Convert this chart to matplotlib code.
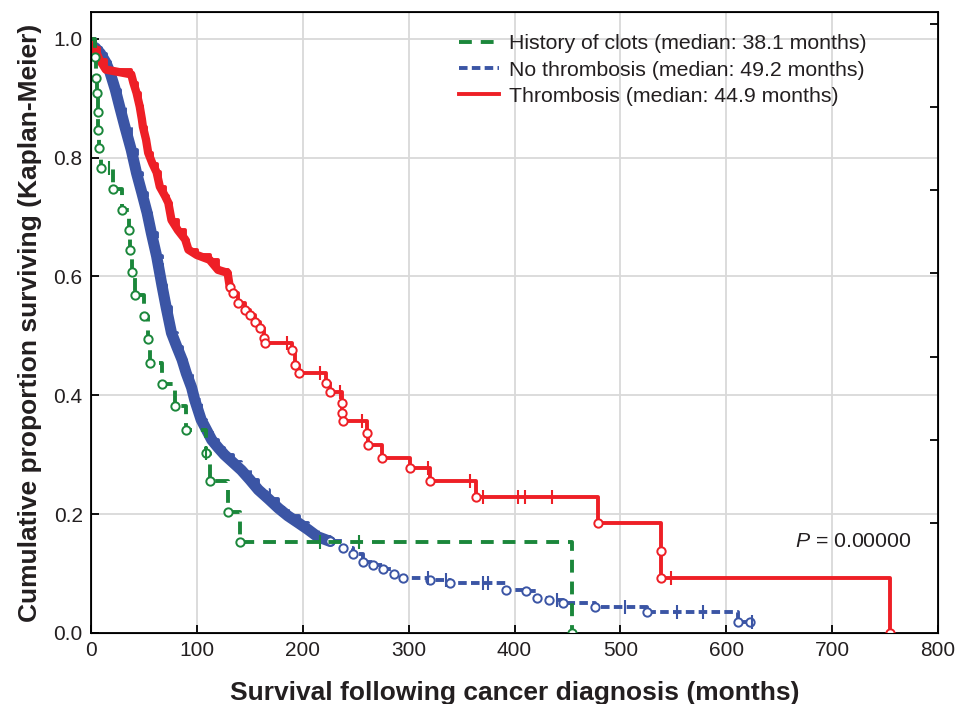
# -*- coding: utf-8 -*-
# Curvas de sobrevida (Kaplan-Meier) para tres grupos de pacientes
import matplotlib.pyplot as plt
import numpy as np

# --- dados ---
# cada grupo: tempos (meses) dos eventos e a proporcao sobrevivente depois do evento
t_coagulo = [0, 4, 5, 6, 6.5, 7, 8, 9, 21, 29, 36, 37, 39, 42, 50, 54, 56, 67,
             79, 90, 109, 112, 129, 141, 454]
s_coagulo = [1.0, 0.97, 0.934, 0.909, 0.877, 0.847, 0.816, 0.783, 0.747, 0.712,
             0.678, 0.645, 0.608, 0.569, 0.533, 0.495, 0.455, 0.419, 0.382, 0.342,
             0.303, 0.256, 0.203, 0.153, 0.0]
cens_coagulo = [17, 109, 216, 253]

t_sem = [0, 4, 9, 14, 18, 23, 27, 32, 38, 43, 48, 53, 57, 62, 67, 71, 76, 81, 86,
         90, 95, 98, 104, 109, 114, 120, 126, 134, 142, 150, 158, 168, 177, 186,
         196, 205, 214, 226, 238, 247, 257, 266, 276, 286, 295, 320, 339, 392,
         411, 421, 433, 446, 476, 525, 611, 622]
s_sem = [1.0, 0.985, 0.975, 0.96, 0.943, 0.914, 0.886, 0.852, 0.813, 0.774,
         0.741, 0.707, 0.673, 0.634, 0.585, 0.548, 0.505, 0.482, 0.46, 0.437,
         0.413, 0.392, 0.359, 0.342, 0.325, 0.312, 0.30, 0.287, 0.274, 0.258,
         0.241, 0.225, 0.21, 0.197, 0.185, 0.174, 0.162, 0.154, 0.143, 0.133,
         0.12, 0.114, 0.108, 0.1, 0.092, 0.089, 0.084, 0.073, 0.07, 0.059, 0.055,
         0.05, 0.044, 0.036, 0.019, 0.019]
cens_sem = [318, 335, 370, 375, 440, 504, 553, 578, 624]

t_trombo = [0, 3, 8, 14, 38, 40, 43, 46, 48, 49, 52, 54, 58, 62, 65, 70, 73, 76,
            82, 89, 92, 100, 112, 120, 129, 131, 134, 139, 145, 150, 155, 160,
            163, 164, 190, 193, 196, 222, 226, 237, 237.5, 238, 261, 262, 275,
            301, 320, 364, 479, 538, 538.5, 755]
s_trombo = [1.0, 0.985, 0.965, 0.948, 0.94, 0.926, 0.909, 0.886, 0.865, 0.852,
            0.83, 0.808, 0.79, 0.775, 0.751, 0.735, 0.724, 0.695, 0.678, 0.662,
            0.645, 0.636, 0.628, 0.611, 0.606, 0.583, 0.572, 0.555, 0.544, 0.535,
            0.524, 0.513, 0.497, 0.488, 0.476, 0.451, 0.438, 0.42, 0.406, 0.387,
            0.37, 0.356, 0.337, 0.316, 0.294, 0.277, 0.255, 0.229, 0.185, 0.138,
            0.092, 0.0]
cens_trombo = [185, 216, 235, 256, 318, 358, 370, 403, 410, 435, 548]

rotulos = ['History of clots (median: 38.1 months)',
           'No thrombosis (median: 49.2 months)',
           'Thrombosis (median: 44.9 months)']

verde = '#1b873b'
azul = '#3b55a5'
vermelho = '#ee1f26'


def nivel(tempos, sobrev, t):
    # valor da curva em escada no tempo t
    i = np.searchsorted(tempos, t, side='right') - 1
    return sobrev[i]


plt.rcParams['font.family'] = ['Liberation Sans', 'DejaVu Sans']
plt.rcParams['mathtext.fontset'] = 'custom'
plt.rcParams['mathtext.it'] = 'Liberation Sans:italic'
plt.rcParams['mathtext.rm'] = 'Liberation Sans'

fig = plt.figure(figsize=(9.62, 7.04), dpi=100)
ax = fig.add_axes([0.0946, 0.1009, 0.8805, 0.8821])

ax.grid(True, color='#d9d9d9', linewidth=1.3)
ax.set_axisbelow(True)

# faixa grossa onde os circulos se sobrepoem (inicio das curvas)
k_azul = np.searchsorted(t_sem, 226)
ax.plot(t_sem[1:k_azul + 1], s_sem[1:k_azul + 1], color=azul, linewidth=8,
        solid_capstyle='round', solid_joinstyle='round', zorder=2)
k_verm = np.searchsorted(t_trombo, 131)
ax.plot(t_trombo[1:k_verm + 1], s_trombo[1:k_verm + 1], color=vermelho, linewidth=6,
        solid_capstyle='round', solid_joinstyle='round', zorder=3)

# curvas em escada
ax.step(t_coagulo, s_coagulo, where='post', color=verde, linewidth=2.8,
        dashes=(3.3, 2.3), label=rotulos[0], zorder=4)
ax.step(t_sem, s_sem, where='post', color=azul, linewidth=2.8,
        dashes=(2.2, 1.1), label=rotulos[1], zorder=2)
ax.step(t_trombo, s_trombo, where='post', color=vermelho, linewidth=2.8,
        label=rotulos[2], zorder=3)

# circulos nos eventos (fora das faixas grossas)
for t, s, k, cor, z in [(t_coagulo, s_coagulo, 1, verde, 4),
                        (t_sem, s_sem, k_azul, azul, 2),
                        (t_trombo, s_trombo, k_verm, vermelho, 3)]:
    ax.plot(t[k:], s[k:], 'o', markersize=6, markerfacecolor='white',
            markeredgecolor=cor, markeredgewidth=1.4, zorder=z)

# cruzes nos casos censurados
for t, s, c, cor, z in [(t_coagulo, s_coagulo, cens_coagulo, verde, 4),
                        (t_sem, s_sem, cens_sem, azul, 2),
                        (t_trombo, s_trombo, cens_trombo, vermelho, 3)]:
    ys = [nivel(t, s, x) for x in c]
    ax.plot(c, ys, '|', markersize=10, markeredgewidth=1.5, color=cor, zorder=z)

ax.set_xlim(0, 800)
ax.set_ylim(0, 1.045)
ax.set_xticks(np.arange(0, 801, 100))
ax.set_yticks(np.arange(0, 1.01, 0.2))
ax.set_yticklabels(['%.1f' % v for v in np.arange(0, 1.01, 0.2)])
ax.tick_params(direction='in', length=6, width=1.3, labelsize=15, pad=6,
               labelcolor='#231f20')
for sp in ax.spines.values():
    sp.set_linewidth(1.3)

# eixo da direita so com marcas
ax2 = ax.twinx()
ax2.set_ylim(0, 1.045)
ax2.set_yticks([0.185, 0.325, 0.465, 0.605, 0.745, 0.885, 1.025])
ax2.set_yticklabels([])
ax2.tick_params(direction='in', length=6, width=1.3)

ax.set_xlabel('Survival following cancer diagnosis (months)', fontsize=19,
              fontweight='bold', labelpad=15, color='#231f20')
ax.set_ylabel('Cumulative proportion surviving (Kaplan-Meier)', fontsize=19,
              fontweight='bold', labelpad=8, color='#231f20')

ax.text(0.969, 0.148, r'$P$ = 0.00000', transform=ax.transAxes, ha='right',
        va='center', fontsize=15.3, color='#231f20')

ax.legend(loc='upper left', bbox_to_anchor=(0.434, 0.964), frameon=False,
          fontsize=15.3, handlelength=1.9, handletextpad=0.45, labelspacing=0.34,
          borderaxespad=0, borderpad=0, labelcolor='#231f20')

plt.savefig('out.png', dpi=100)
